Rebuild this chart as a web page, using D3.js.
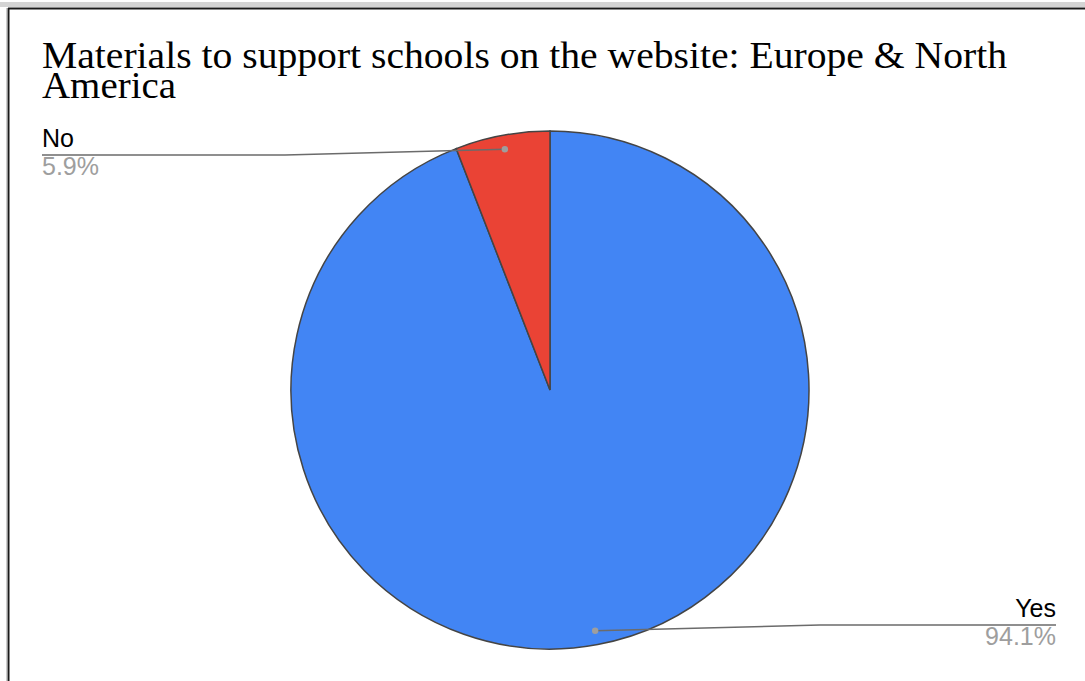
<!DOCTYPE html>
<html>
<head>
<meta charset="utf-8">
<script src="https://cdn.jsdelivr.net/npm/d3@7"></script>
<style>
html,body{margin:0;padding:0;background:#fff;}
svg{display:block;}
</style>
</head>
<body>
<svg id="chart" width="1085" height="681"></svg>
<script>
const title = ["Materials to support schools on the website: Europe & North", "America"];
const categories = ["Yes", "No"];
const values = [94.1, 5.9];
const percentLabels = ["94.1%", "5.9%"];
const colors = ["#4285f4", "#ea4335"];

const svg = d3.select("#chart");
const W = 1085, H = 681;

// frame
svg.append("rect").attr("x",0).attr("y",0).attr("width",W).attr("height",H).attr("fill","#fff");
svg.append("rect").attr("x",0).attr("y",2).attr("width",W).attr("height",5).attr("fill","#d4d4d4");
svg.append("line").attr("x1",8).attr("x2",W).attr("y1",8.5).attr("y2",8.5).attr("stroke","#1a1a1a").attr("stroke-width",2);
svg.append("line").attr("x1",8.5).attr("x2",8.5).attr("y1",8).attr("y2",H).attr("stroke","#1a1a1a").attr("stroke-width",2);
svg.append("line").attr("x1",7).attr("x2",7).attr("y1",8).attr("y2",H).attr("stroke","#999").attr("stroke-width",1);

// title
const titleWidths = [965, 134];
title.forEach((line,i)=>{
  svg.append("text").attr("font-family","'Liberation Serif','Times New Roman',serif")
    .attr("font-size",38).attr("fill","#000")
    .attr("x",42).attr("y",68 + i*30)
    .attr("textLength",titleWidths[i]).attr("lengthAdjust","spacingAndGlyphs")
    .text(line);
});

// pie
const cx = 550, cy = 390, R = 259;
const pie = d3.pie().sort(null).value(d=>d.v);
const data = categories.map((c,i)=>({c, v: values[i], p: percentLabels[i], col: colors[i]}));
const arcs = pie(data);
const arc = d3.arc().innerRadius(0).outerRadius(R);
const g = svg.append("g").attr("transform",`translate(${cx},${cy})`);
g.selectAll("path").data(arcs).join("path")
  .attr("d",arc).attr("fill",d=>d.data.col)
  .attr("stroke","#444").attr("stroke-width",1.5);

// labels
const dotArc = d3.arc().innerRadius(R*0.946).outerRadius(R*0.946);
const labelCfg = {
  "No":  {x: 42, lineY: 155, bendX: 285, anchor: "start"},
  "Yes": {x: 1056, lineY: 625, bendX: 820, anchor: "end"}
};
arcs.forEach(a=>{
  const cfg = labelCfg[a.data.c];
  const [dx, dy] = dotArc.centroid(a);
  const px = cx + dx, py = cy + dy;
  svg.append("path")
    .attr("d", `M${cfg.x},${cfg.lineY}L${cfg.bendX},${cfg.lineY}L${px},${py}`)
    .attr("fill","none").attr("stroke","#6b6b6b").attr("stroke-width",1.5);
  svg.append("circle").attr("cx",px).attr("cy",py).attr("r",3.2).attr("fill","#9e9e9e");
  svg.append("text").attr("x",cfg.x).attr("y",cfg.lineY-8)
    .attr("text-anchor",cfg.anchor).attr("font-family","Arial,'Liberation Sans',sans-serif")
    .attr("font-size",25).attr("fill","#000").text(a.data.c);
  svg.append("text").attr("x",cfg.x).attr("y",cfg.lineY+20)
    .attr("text-anchor",cfg.anchor).attr("font-family","Arial,'Liberation Sans',sans-serif")
    .attr("font-size",25).attr("fill","#9e9e9e").text(a.data.p);
});
</script>
</body>
</html>
